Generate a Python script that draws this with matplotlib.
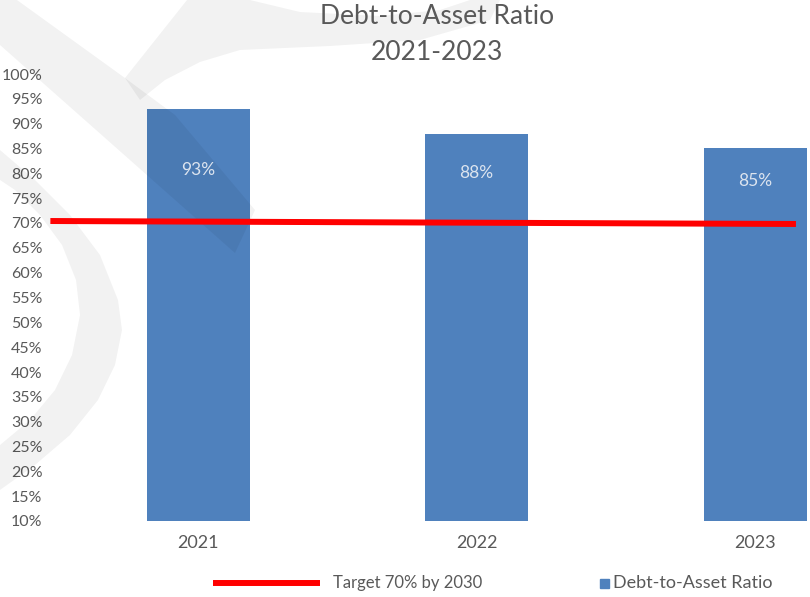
import matplotlib
matplotlib.use("Agg")
import matplotlib.pyplot as plt
from matplotlib.patches import Polygon, Rectangle
from matplotlib.lines import Line2D
from matplotlib.transforms import Affine2D

# ---- data ----
years = ["2021", "2022", "2023"]
ratios = [93, 88, 85]
target_start = 70.4
target_end = 69.8
target_label = "Target 70% by 2030"
series_label = "Debt-to-Asset Ratio"
title_lines = ["Debt-to-Asset Ratio", "2021-2023"]
yticks = list(range(10, 101, 5))

W, H = 810, 597
plt.rcParams['font.family'] = ['Lato', 'DejaVu Sans']
fig = plt.figure(figsize=(W / 100, H / 100), dpi=100)
fig.patch.set_facecolor('white')

# axes: left at pixel 59, right at 810; bottom 521, top 74
ax = fig.add_axes([59 / W, (H - 521) / H, (W - 59) / W, (521 - 74) / H])
ax.set_facecolor('none')
x = list(range(len(years)))
bar_color = '#4F81BD'
ax.bar(x, ratios, width=0.37, color=bar_color, bottom=0, zorder=1)
ax.set_ylim(10, 100)
ax.set_xlim(-0.5, 2 + 55 / 278.5)
ax.set_yticks(yticks)
ax.set_yticklabels([f"{v}%" for v in yticks], color='#595959', fontsize=11.5)
ax.set_xticks(x)
ax.set_xticklabels(years, color='#595959', fontsize=13)
ax.tick_params(axis='both', length=0)
ax.tick_params(axis='y', pad=12)
ax.tick_params(axis='x', pad=10)
for s in ax.spines.values():
    s.set_visible(False)

# data labels
label_drop_px = [61, 39, 33]
for xi, v, d in zip(x, ratios, label_drop_px):
    ax.annotate(f"{v}%", (xi, v), xytext=(0, -d * 0.72), textcoords='offset points',
                ha='center', va='center', color='#DCE4EF', fontsize=12.5, zorder=5)

# target line (drawn shape spanning beyond plot)
x0 = -0.531
x1 = 2.147
ax.plot([x0, x1], [target_start, target_end], color='#FF0000', lw=4.3,
        solid_capstyle='butt', clip_on=False, zorder=4)

# title
fig.text(437 / W, 1 - 17 / H, title_lines[0], ha='center', va='center',
         fontsize=19, color='#595959')
fig.text(437 / W, 1 - 52 / H, title_lines[1], ha='center', va='center',
         fontsize=19, color='#595959')

# watermark in pixel coordinates
pix = Affine2D().scale(1 / W, -1 / H).translate(0, 1) + fig.transFigure
wm_kw = dict(closed=True, facecolor='black', edgecolor='none', alpha=0.05,
             transform=pix, clip_on=False, zorder=2)
left_arm = [(-5, 0), (17, 0), (125, 78), (175, 115), (255, 210), (235, 253), (0, 45)]
swoosh = [(125, 78), (187, 0), (250, 0), (300, 12), (380, 16), (440, 10), (470, 0),
          (500, 0), (490, 20), (420, 40), (330, 46), (240, 50), (200, 62),
          (165, 80), (140, 100)]
crescent = [(0, 150), (35, 180), (70, 215), (100, 255), (118, 300), (122, 330),
            (115, 365), (98, 400), (70, 435), (35, 465), (0, 490),
            (0, 445), (30, 420), (55, 390), (72, 355), (80, 315), (76, 280),
            (62, 245), (40, 215), (15, 190), (0, 180)]
for poly in (left_arm, swoosh, crescent):
    ax.add_patch(Polygon(poly, **wm_kw))

# legend (manual)
fig.add_artist(Line2D([213 / W, 320 / W], [1 - 583 / H, 1 - 583 / H],
                      color='#FF0000', lw=4.3, solid_capstyle='butt'))
fig.text(333 / W, 1 - 583 / H, target_label, ha='left', va='center',
         fontsize=12, color='#595959')
fig.add_artist(Rectangle((600 / W, 1 - 588 / H), 9 / W, 9 / H, color=bar_color))
fig.text(613 / W, 1 - 583 / H, series_label, ha='left', va='center',
         fontsize=13, color='#595959')

fig.savefig("out.png", dpi=100)
